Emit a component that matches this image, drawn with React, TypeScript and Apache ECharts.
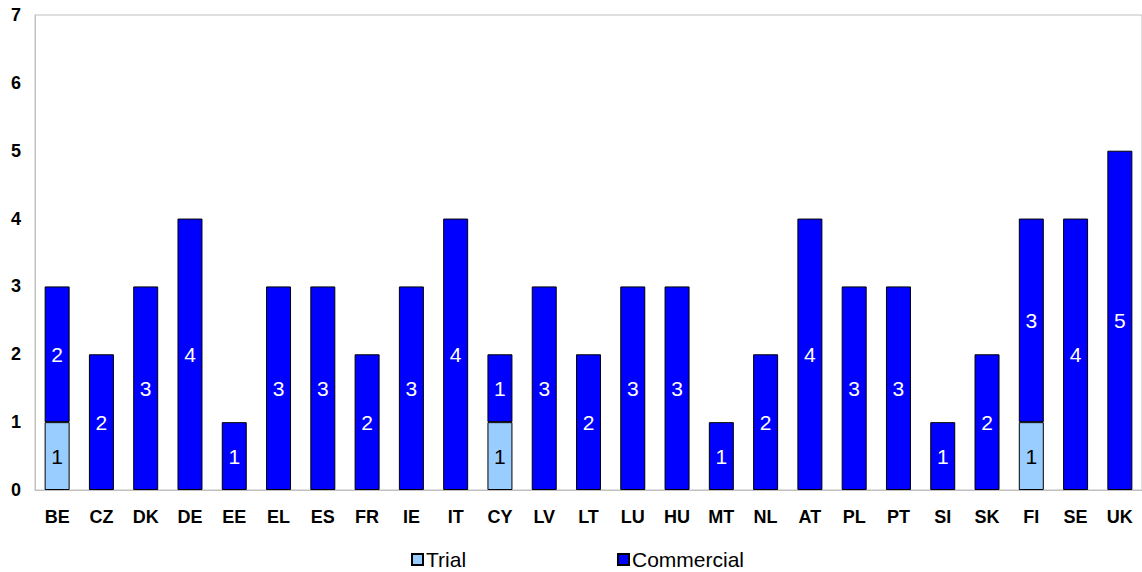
import React, { useEffect, useRef } from "react";
import * as echarts from "echarts";

const categories = ["BE","CZ","DK","DE","EE","EL","ES","FR","IE","IT","CY","LV","LT","LU","HU","MT","NL","AT","PL","PT","SI","SK","FI","SE","UK"];
const trial: (number | null)[] = [1,null,null,null,null,null,null,null,null,null,1,null,null,null,null,null,null,null,null,null,null,null,1,null,null];
const commercial: number[] = [2,2,3,4,1,3,3,2,3,4,1,3,2,3,3,1,2,4,3,3,1,2,3,4,5];
const yTicks = [0,1,2,3,4,5,6,7];

const FONT = '"Liberation Sans", Arial, sans-serif';

export default function App() {
  const ref = useRef<HTMLDivElement>(null);
  useEffect(() => {
    if (!ref.current) return;
    const chart = echarts.init(ref.current, null, { renderer: "svg" });
    const legendText = { fontSize: 21, lineHeight: 20, fontFamily: FONT, color: "#000", padding: [0, 0, 0, -2] };
    chart.setOption({
      animation: false,
      backgroundColor: "#ffffff",
      textStyle: { fontFamily: FONT },
      grid: {
        left: 35, right: -1, top: 15, bottom: 82,
        show: true, borderColor: "#c0c0c0", borderWidth: 1,
      },
      legend: [
        {
          data: [{ name: "Trial" }],
          left: 411, top: 549, padding: 0, itemWidth: 11, itemHeight: 11, itemGap: 0,
          icon: "rect",
          textStyle: legendText,
        },
        {
          data: [{ name: "Commercial" }],
          left: 617, top: 549, padding: 0, itemWidth: 11, itemHeight: 11, itemGap: 0,
          icon: "rect",
          textStyle: legendText,
        },
      ],
      xAxis: {
        type: "category",
        data: categories,
        axisLine: { lineStyle: { color: "#c0c0c0" } },
        axisTick: { show: false },
        axisLabel: { fontSize: 18, fontWeight: "bold", color: "#000", margin: 18, fontFamily: FONT, interval: 0 },
      },
      yAxis: {
        type: "value",
        min: 0, max: yTicks[yTicks.length - 1], interval: 1,
        axisLine: { show: true, lineStyle: { color: "#c0c0c0" } },
        axisTick: { show: false },
        splitLine: { show: false },
        axisLabel: { fontSize: 18, fontWeight: "bold", color: "#000", margin: 14, fontFamily: FONT },
      },
      series: [
        {
          name: "Trial",
          type: "bar",
          stack: "s",
          barWidth: 25,
          data: trial,
          itemStyle: { color: "#99ccff", borderColor: "#000", borderWidth: 1 },
          label: { show: true, position: "inside", color: "#000", fontSize: 21, fontFamily: FONT },
        },
        {
          name: "Commercial",
          type: "bar",
          stack: "s",
          barWidth: 25,
          data: commercial,
          itemStyle: { color: "#0000ff", borderColor: "#000", borderWidth: 1 },
          label: { show: true, position: "inside", color: "#fff", fontSize: 21, fontFamily: FONT },
        },
      ],
    });
    return () => chart.dispose();
  }, []);
  return (
    <div
      ref={ref}
      style={{ position: "fixed", left: 0, top: 0, width: 1142, height: 572 }}
    />
  );
}
